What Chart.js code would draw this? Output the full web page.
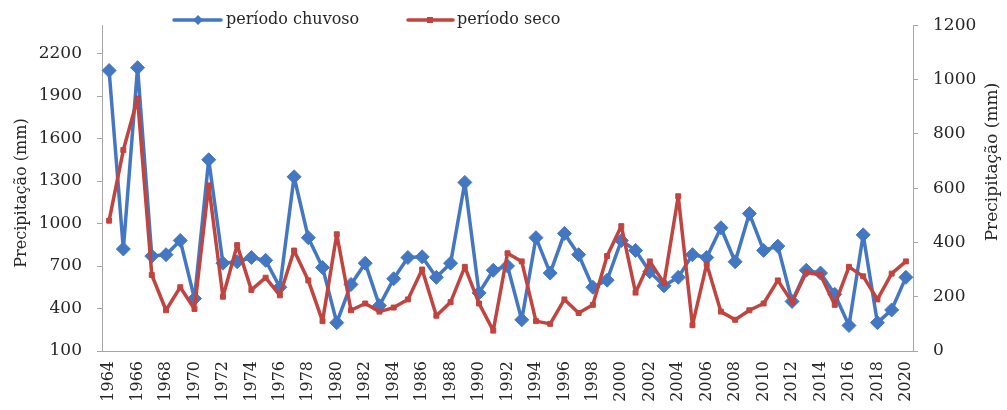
<!DOCTYPE html>
<html>
<head>
<meta charset="utf-8">
<script src="https://cdn.jsdelivr.net/npm/chart.js@4.4.0/dist/chart.umd.min.js"></script>
<style>
  html, body { margin: 0; padding: 0; background: #ffffff; }
  #wrap { width: 1007px; height: 410px; position: relative; }
</style>
</head>
<body>
<div id="wrap"><canvas id="chart" width="1007" height="410"></canvas></div>
<script>
// Anos da série
const years = [
  '1964','1965','1966','1967','1968','1969','1970','1971','1972','1973',
  '1974','1975','1976','1977','1978','1979','1980','1981','1982','1983',
  '1984','1985','1986','1987','1988','1989','1990','1991','1992','1993',
  '1994','1995','1996','1997','1998','1999','2000','2001','2002','2003',
  '2004','2005','2006','2007','2008','2009','2010','2011','2012','2013',
  '2014','2015','2016','2017','2018','2019','2020'
];

// Precipitação do período chuvoso (mm) - eixo esquerdo
const chuvoso = [
  2080, 820, 2100, 770, 780, 880, 470, 1450, 720, 730,
  760, 740, 550, 1330, 900, 690, 300, 570, 720, 420,
  610, 760, 765, 620, 720, 1290, 510, 670, 700, 320,
  900, 650, 930, 780, 550, 600, 880, 810, 660, 560,
  620, 780, 760, 970, 730, 1070, 810, 840, 450, 670,
  650, 500, 280, 920, 300, 390, 620
];

// Precipitação do período seco (mm) - eixo direito
const seco = [
  480, 740, 930, 280, 150, 235, 155, 610, 200, 390,
  225, 270, 205, 370, 260, 110, 430, 150, 175, 145,
  160, 190, 300, 130, 180, 310, 175, 75, 360, 330,
  110, 100, 190, 140, 170, 350, 460, 215, 330, 250,
  570, 95, 320, 145, 115, 150, 175, 260, 180, 290,
  280, 170, 310, 275, 190, 285, 330
];

// Marcas dos eixos
const leftTicks = [100, 400, 700, 1000, 1300, 1600, 1900, 2200];
const rightTicks = [0, 200, 400, 600, 800, 1000, 1200];

const BLUE = '#4477c2';
const RED = '#c0443f';
const AXIS = '#a6a6a6';
const TEXT = '#262626';
const SERIF = '"DejaVu Serif", "Liberation Serif", serif';

// Legenda e títulos dos eixos desenhados sobre o gráfico
const overlay = {
  id: 'overlay',
  afterDraw(chart) {
    const ctx = chart.ctx;
    ctx.save();

    // títulos dos eixos
    ctx.fillStyle = TEXT;
    ctx.textAlign = 'center';
    ctx.textBaseline = 'middle';
    ctx.font = '16px ' + SERIF;
    ctx.save();
    ctx.translate(22, 193);
    ctx.rotate(-Math.PI / 2);
    ctx.fillText('Precipitação (mm)', 0, 0);
    ctx.restore();
    ctx.font = '17px ' + SERIF;
    ctx.save();
    ctx.translate(993, 162);
    ctx.rotate(-Math.PI / 2);
    ctx.fillText('Precipitação (mm)', 0, 0);
    ctx.restore();

    // legenda
    const ly = 20;
    ctx.lineWidth = 3.5;
    ctx.lineCap = 'round';
    ctx.strokeStyle = BLUE;
    ctx.beginPath(); ctx.moveTo(174, ly); ctx.lineTo(221, ly); ctx.stroke();
    ctx.fillStyle = BLUE;
    ctx.beginPath();
    ctx.moveTo(198, ly - 5); ctx.lineTo(203, ly); ctx.lineTo(198, ly + 5); ctx.lineTo(193, ly);
    ctx.closePath(); ctx.fill();

    ctx.strokeStyle = RED;
    ctx.beginPath(); ctx.moveTo(408, ly); ctx.lineTo(453, ly); ctx.stroke();
    ctx.fillStyle = RED;
    ctx.fillRect(427, ly - 3, 6, 6);

    ctx.fillStyle = TEXT;
    ctx.font = '16px ' + SERIF;
    ctx.textAlign = 'left';
    ctx.fillText('período chuvoso', 226, ly);
    ctx.fillText('período seco', 457, ly);
    ctx.restore();
  }
};

new Chart(document.getElementById('chart'), {
  type: 'line',
  data: {
    labels: years,
    datasets: [
      {
        label: 'período chuvoso',
        data: chuvoso,
        yAxisID: 'yL',
        borderColor: BLUE,
        backgroundColor: BLUE,
        borderWidth: 3.5,
        borderJoinStyle: 'round',
        borderCapStyle: 'round',
        pointStyle: 'rectRot',
        pointRadius: 7,
        pointBorderWidth: 1,
        pointBackgroundColor: BLUE,
        pointBorderColor: BLUE,
        tension: 0,
        order: 1
      },
      {
        label: 'período seco',
        data: seco,
        yAxisID: 'yR',
        borderColor: RED,
        backgroundColor: RED,
        borderWidth: 3.5,
        borderJoinStyle: 'round',
        borderCapStyle: 'round',
        pointStyle: 'rect',
        pointRadius: 3.5,
        pointBorderWidth: 1,
        pointBackgroundColor: RED,
        pointBorderColor: RED,
        tension: 0,
        order: 0
      }
    ]
  },
  options: {
    responsive: false,
    animation: false,
    devicePixelRatio: 1,
    layout: { padding: { top: 16, left: 0, right: 0, bottom: 0 } },
    plugins: {
      legend: { display: false },
      tooltip: { enabled: false }
    },
    scales: {
      x: {
        type: 'category',
        offset: true,
        grid: { display: false, drawTicks: false },
        border: { display: true, color: AXIS, width: 1 },
        ticks: {
          autoSkip: false,
          maxRotation: 90,
          minRotation: 90,
          padding: 10,
          color: TEXT,
          font: { family: SERIF, size: 16 },
          callback: (v, i) => (i % 2 === 0 ? years[i] : '')
        },
        afterFit: s => { s.height = 59; }
      },
      yL: {
        position: 'left',
        min: 100,
        max: 2400,
        grid: { display: true, drawOnChartArea: false, drawTicks: true, tickLength: 5, color: AXIS },
        border: { display: true, color: AXIS, width: 1 },
        ticks: {
          padding: 15, color: TEXT, font: { family: SERIF, size: 17 },
          callback: v => String(v)
        },
        afterBuildTicks: s => { s.ticks = leftTicks.map(v => ({ value: v })); },
        afterFit: s => { s.width = 102; }
      },
      yR: {
        position: 'right',
        min: 0,
        max: 1200,
        grid: { display: true, drawOnChartArea: false, drawTicks: true, tickLength: 5, color: AXIS },
        border: { display: true, color: AXIS, width: 1 },
        ticks: {
          padding: 15, color: TEXT, font: { family: SERIF, size: 17 },
          callback: v => String(v)
        },
        afterBuildTicks: s => { s.ticks = rightTicks.map(v => ({ value: v })); },
        afterFit: s => { s.width = 94; }
      }
    }
  },
  plugins: [overlay]
});
</script>
</body>
</html>
